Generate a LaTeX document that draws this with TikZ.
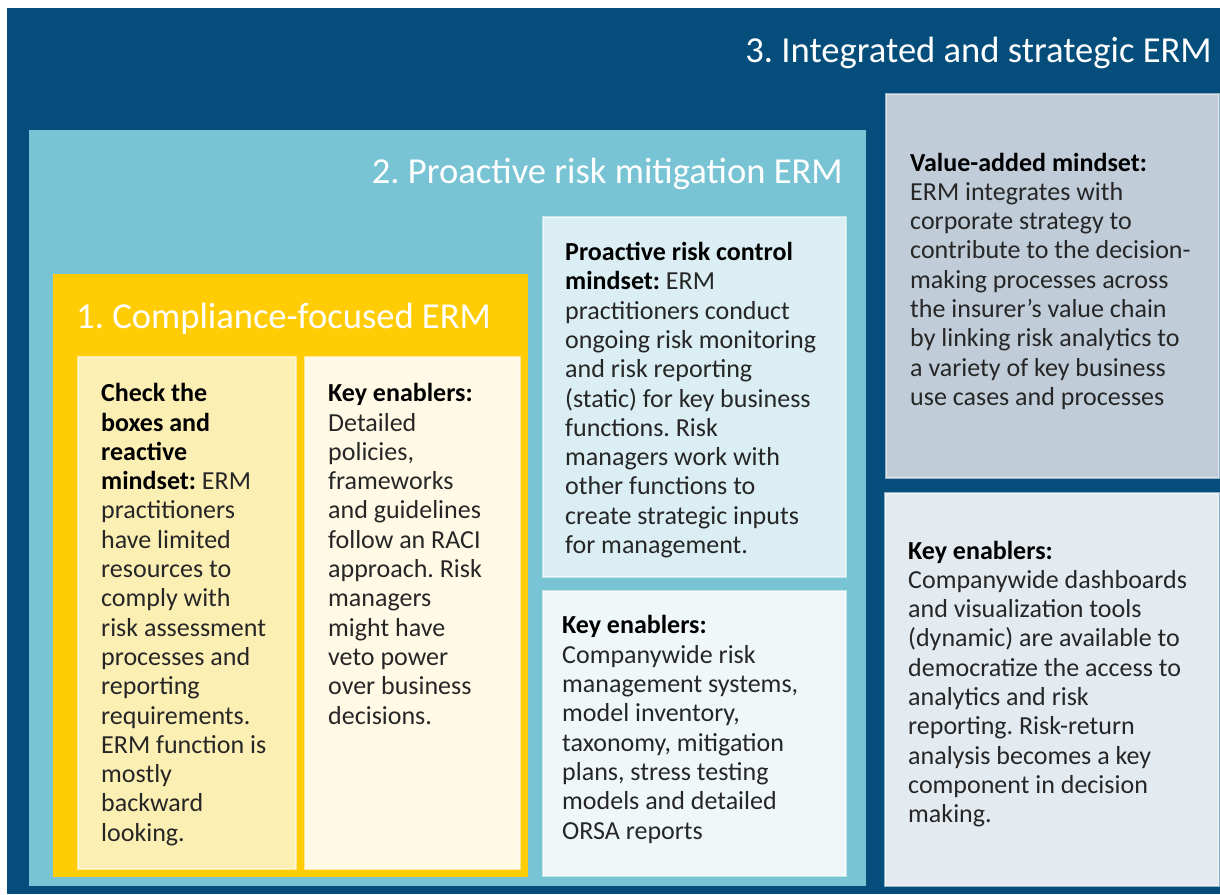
\documentclass[tikz,border=0pt]{standalone}
\usepackage{fontspec}
\setmainfont{Carlito}
\frenchspacing
\definecolor{darkb}{HTML}{054D7B}
\definecolor{midb}{HTML}{78C4D4}
\definecolor{yel}{HTML}{FFCC05}
\definecolor{lyel}{HTML}{FCEFB4}
\definecolor{cream}{HTML}{FFF9E6}
\definecolor{pan1}{HTML}{DAEEF3}
\definecolor{pan2}{HTML}{EFF7F9}
\definecolor{gray1}{HTML}{C0CDD9}
\definecolor{gray2}{HTML}{E3EAF0}
\definecolor{bodyc}{HTML}{262626}
\newcommand\bodyfnt{\fontsize{26}{29.3}\selectfont\frenchspacing}
\newcommand\titlefnt{\fontsize{36.6}{40}\selectfont\frenchspacing}
\tikzset{
  box/.style={rectangle, inner sep=0pt, outer sep=0pt, anchor=north west},
  lite/.style={draw=white, draw opacity=0.55, line width=1.2pt},
  ttl/.style={inner sep=0pt, text=white, font=\titlefnt},
  txt/.style={inner sep=0pt, anchor=base west, align=left, text=bodyc, font=\bodyfnt},
}
\begin{document}
\begin{tikzpicture}[x=1pt,y=-1pt]
\fill[white] (0,0) rectangle (1220,894);
\useasboundingbox (0,0) rectangle (1220,894);
% boxes
\node[box, fill=darkb, minimum width=1213pt, minimum height=886pt] (outer) at (7,8) {};
\node[box, fill=midb, minimum width=837pt, minimum height=756pt] (lvl2) at (29,130) {};
\node[box, fill=yel, minimum width=475pt, minimum height=603pt] (lvl1) at (53,274) {};
\node[box, fill=lyel, lite, minimum width=218pt, minimum height=512pt] (chk) at (78,357) {};
\node[box, fill=cream, lite, minimum width=215pt, minimum height=512pt] (ken1) at (305,357) {};
\node[box, fill=pan1, lite, minimum width=303pt, minimum height=360pt] (pro) at (543,217) {};
\node[box, fill=pan2, lite, minimum width=303pt, minimum height=285pt] (ken2) at (543,591) {};
\node[box, fill=gray1, lite, minimum width=333pt, minimum height=384pt] (val) at (886,94) {};
\node[box, fill=gray2, lite, minimum width=334pt, minimum height=393pt] (ken3) at (885,493) {};
% titles
\node[ttl, anchor=base east] (t3) at (1212,62) {3. Integrated and strategic ERM};
\node[ttl, anchor=base east] (t2) at (843,183) {2. Proactive risk mitigation ERM};
\node[ttl, anchor=base west] (t1) at (76,328) {1. Compliance-focused ERM};
% texts (base anchor = baseline of the last line)
\node[txt] (chkt) at (101,841.2) {\textbf{\color{black}Check the}\\ \textbf{\color{black}boxes and}\\ \textbf{\color{black}reactive}\\ \textbf{\color{black}mindset:} ERM\\ practitioners\\ have limited\\ resources to\\ comply with\\ risk assessment\\ processes and\\ reporting\\ requirements.\\ ERM function is\\ mostly\\ backward\\ looking.};
\node[txt] (ken1t) at (328,724) {\textbf{\color{black}Key enablers:}\\ Detailed\\ policies,\\ frameworks\\ and guidelines\\ follow an RACI\\ approach. Risk\\ managers\\ might have\\ veto power\\ over business\\ decisions.};
\node[txt] (prot) at (565,553.5) {\textbf{\color{black}Proactive risk control}\\ \textbf{\color{black}mindset:} ERM\\ practitioners conduct\\ ongoing risk monitoring\\ and risk reporting\\ (static) for key business\\ functions. Risk\\ managers work with\\ other functions to\\ create strategic inputs\\ for management.};
\node[txt] (ken2t) at (562,839) {\textbf{\color{black}Key enablers:}\\ Companywide risk\\ management systems,\\ model inventory,\\ taxonomy, mitigation\\ plans, stress testing\\ models and detailed\\ ORSA reports};
\node[txt] (valt) at (910,405.4) {\textbf{\color{black}Value-added mindset:}\\ ERM integrates with\\ corporate strategy to\\ contribute to the decision-\\ making processes across\\ the insurer’s value chain\\ by linking risk analytics to\\ a variety of key business\\ use cases and processes};
\node[txt] (ken3t) at (908,822.7) {\textbf{\color{black}Key enablers:}\\ Companywide dashboards\\ and visualization tools\\ (dynamic) are available to\\ democratize the access to\\ analytics and risk\\ reporting. Risk-return\\ analysis becomes a key\\ component in decision\\ making.};
\end{tikzpicture}
\end{document}
